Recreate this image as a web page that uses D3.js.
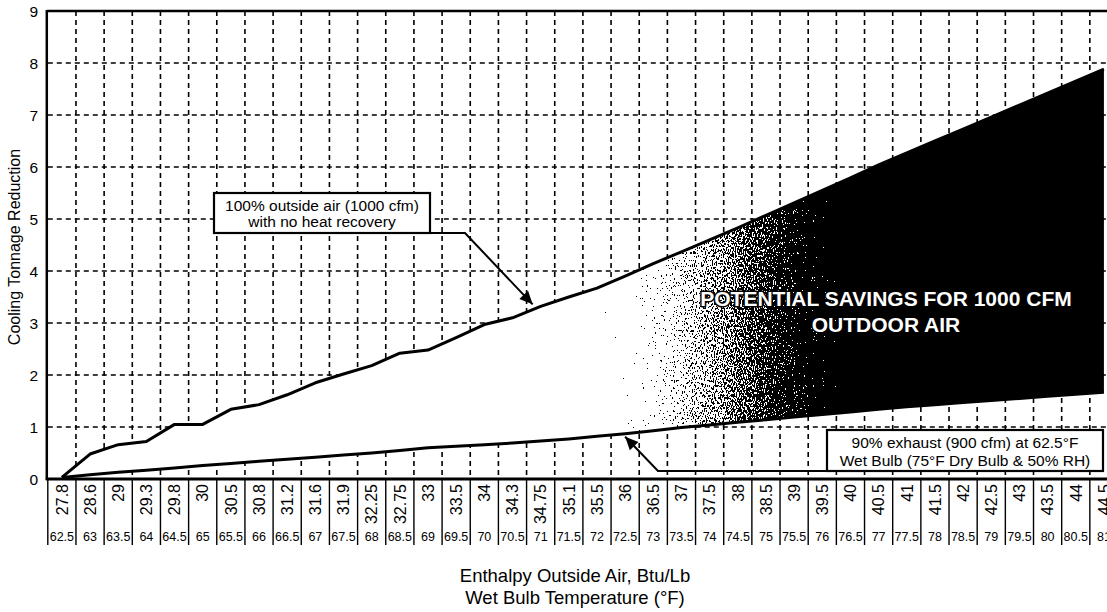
<!DOCTYPE html>
<html>
<head>
<meta charset="utf-8">
<script src="https://cdn.jsdelivr.net/npm/d3@7"></script>
<style>
  html, body { margin: 0; padding: 0; background: #fff; }
  svg { display: block; }
  text { font-family: "Liberation Sans", Arial, Helvetica, sans-serif; }
</style>
</head>
<body>
<svg id="chart" width="1107" height="612"></svg>
<script>
// ---- data ----
const enthalpy = ["27.8","28.6","29","29.3","29.8","30","30.5","30.8","31.2","31.6","31.9","32.25","32.75","33","33.5","34","34.3","34.75","35.1","35.5","36","36.5","37","37.5","38","38.5","39","39.5","40","40.5","41","41.5","42","42.5","43","43.5","44","44.5"];
const wetBulb = ["62.5","63","63.5","64","64.5","65","65.5","66","66.5","67","67.5","68","68.5","69","69.5","70","70.5","71","71.5","72","72.5","73","73.5","74","74.5","75","75.5","76","76.5","77","77.5","78","78.5","79","79.5","80","80.5","81"];
const noRecovery = [0.03,0.48,0.66,0.72,1.05,1.05,1.34,1.43,1.62,1.85,2.02,2.18,2.42,2.48,2.72,2.97,3.1,3.32,3.5,3.67,3.9,4.14,4.37,4.6,4.83,5.07,5.31,5.55,5.79,6.04,6.27,6.5,6.73,6.96,7.19,7.42,7.65,7.88];
const exhaust90 = [0.03,0.08,0.13,0.17,0.21,0.26,0.3,0.34,0.38,0.42,0.46,0.5,0.55,0.6,0.63,0.66,0.69,0.73,0.77,0.82,0.87,0.93,0.99,1.04,1.09,1.14,1.19,1.24,1.29,1.34,1.39,1.43,1.47,1.51,1.55,1.59,1.63,1.67];
const yTicks = [0,1,2,3,4,5,6,7,8,9];
const yTitle = "Cooling Tonnage Reduction";
const xTitle1 = "Enthalpy Outside Air, Btu/Lb";
const xTitle2 = "Wet Bulb Temperature (°F)";
const note1 = ["100% outside air (1000 cfm)", "with no heat recovery"];
const note2 = ["90% exhaust (900 cfm) at 62.5°F", "Wet Bulb (75°F Dry Bulb & 50% RH)"];
const savings = ["POTENTIAL SAVINGS FOR 1000 CFM", "OUTDOOR AIR"];

// ---- layout ----
const W = 1107, H = 612;
const pLeft = 47.8, pRightEdge = 1118, pTop = 11, pBottom = 479;
const svg = d3.select("#chart");

const x = d3.scaleBand().domain(enthalpy).range([pLeft, pRightEdge]).padding(0);
const y = d3.scaleLinear().domain([0, 9]).range([pBottom, pTop]);
const bw = x.bandwidth();
const cx = (i) => x(enthalpy[i]) + bw / 2;

const defs = svg.append("defs");
const grad = defs.append("linearGradient").attr("id", "savGrad")
  .attr("gradientUnits", "userSpaceOnUse")
  .attr("x1", 590).attr("y1", 0).attr("x2", 870).attr("y2", 0);
grad.append("stop").attr("offset", "0%").attr("stop-color", "#fff");
grad.append("stop").attr("offset", "100%").attr("stop-color", "#000");

const filt = defs.append("filter").attr("id", "dither")
  .attr("color-interpolation-filters", "sRGB")
  .attr("x", 0).attr("y", 0).attr("width", 1).attr("height", 1);
filt.append("feTurbulence").attr("type", "fractalNoise")
  .attr("baseFrequency", "0.9 0.4").attr("numOctaves", 2).attr("seed", 7).attr("result", "noise");
filt.append("feColorMatrix").attr("in", "noise").attr("type", "matrix")
  .attr("values", "1 0 0 0 0  1 0 0 0 0  1 0 0 0 0  0 0 0 0 1").attr("result", "n");
filt.append("feComposite").attr("in", "SourceGraphic").attr("in2", "n")
  .attr("operator", "arithmetic").attr("k1", 0).attr("k2", 1).attr("k3", 1.2).attr("k4", -0.6).attr("result", "sum");
const ct = filt.append("feComponentTransfer").attr("in", "sum").attr("result", "thr");
["feFuncR","feFuncG","feFuncB"].forEach(f => ct.append(f).attr("type", "discrete").attr("tableValues", "0 1"));
filt.append("feComposite").attr("in", "thr").attr("in2", "SourceGraphic").attr("operator", "in");

// ---- grid ----
const grid = svg.append("g").attr("stroke", "#000").attr("stroke-width", 1.6).attr("stroke-dasharray", "5,4");
yTicks.filter(t => t > 0 && t < 9).forEach(t => {
  grid.append("line").attr("x1", pLeft).attr("x2", W).attr("y1", y(t)).attr("y2", y(t));
});
enthalpy.forEach((e, i) => {
  if (i === 0) return;
  grid.append("line").attr("x1", x(e)).attr("x2", x(e)).attr("y1", pTop).attr("y2", pBottom);
});

// ---- savings area ----
const pts = enthalpy.map((e, i) => ({ x: cx(i), lo: exhaust90[i], hi: noRecovery[i] }));
const area = d3.area().x(d => d.x).y0(d => y(d.lo)).y1(d => y(d.hi));
svg.append("path").datum(pts).attr("d", area).attr("fill", "url(#savGrad)").attr("filter", "url(#dither)");

const lineHi = d3.line().x(d => d.x).y(d => y(d.hi));
const lineLo = d3.line().x(d => d.x).y(d => y(d.lo));
svg.append("path").datum(pts).attr("d", lineHi).attr("fill", "none").attr("stroke", "#000").attr("stroke-width", 3).attr("stroke-linejoin", "round");
svg.append("path").datum(pts).attr("d", lineLo).attr("fill", "none").attr("stroke", "#000").attr("stroke-width", 3).attr("stroke-linejoin", "round");

// ---- frame ----
svg.append("line").attr("x1", pLeft - 1).attr("x2", W).attr("y1", pTop).attr("y2", pTop).attr("stroke", "#000").attr("stroke-width", 2.5);
svg.append("line").attr("x1", pLeft - 1).attr("x2", pLeft - 1).attr("y1", pTop - 1).attr("y2", pBottom + 1).attr("stroke", "#000").attr("stroke-width", 2.5);
svg.append("line").attr("x1", pLeft - 2).attr("x2", W).attr("y1", pBottom).attr("y2", pBottom).attr("stroke", "#000").attr("stroke-width", 3);

// ---- y axis labels ----
svg.append("g").selectAll("text").data(yTicks).join("text")
  .attr("x", 38).attr("y", d => y(d)).attr("dy", "0.36em").style("fill", "#000")
  .attr("text-anchor", "end").attr("font-size", 15.5).text(d => d);
svg.append("text").attr("transform", `translate(14,${(pTop + pBottom) / 2 + 2}) rotate(-90)`).style("fill", "#000")
  .attr("text-anchor", "middle").attr("dy", "0.35em").attr("font-size", 16).text(yTitle);

// ---- table under axis ----
const tbl = svg.append("g");
for (let i = 0; i <= enthalpy.length; i++) {
  const xx = pLeft + i * bw;
  tbl.append("line").attr("x1", xx).attr("x2", xx).attr("y1", pBottom).attr("y2", 545)
    .attr("stroke", "#000").attr("stroke-width", 1.4);
}
tbl.selectAll("text.enth").data(enthalpy).join("text").attr("class", "enth").style("fill", "#000")
  .attr("transform", (d, i) => `translate(${cx(i)},484) rotate(-90)`)
  .attr("text-anchor", "end").attr("dy", "0.36em").attr("font-size", 16).text(d => d);
tbl.selectAll("text.wb").data(wetBulb).join("text").attr("class", "wb").style("fill", "#000")
  .attr("x", (d, i) => cx(i)).attr("y", 536).attr("dy", "0.36em")
  .attr("text-anchor", "middle").attr("font-size", 12.5).text(d => d);

svg.append("text").attr("x", 575).attr("y", 582).attr("text-anchor", "middle").attr("font-size", 18.5).style("fill", "#000").text(xTitle1);
svg.append("text").attr("x", 575).attr("y", 604).attr("text-anchor", "middle").attr("font-size", 18.5).style("fill", "#000").text(xTitle2);

// ---- savings label ----
savings.forEach((s, k) => {
  svg.append("text").attr("x", 886).attr("y", 298 + k * 26).attr("dy", "0.36em")
    .attr("text-anchor", "middle").attr("font-size", 21).attr("font-weight", "bold")
    .style("fill", "#fff").style("stroke", "#000").style("stroke-width", 3)
    .style("paint-order", "stroke").style("stroke-linejoin", "round").text(s);
});

// ---- annotations ----
function arrowHead(x0, y0, x1, y1) {
  const a = Math.atan2(y1 - y0, x1 - x0), L = 13, Wd = 6;
  const bx = x1 - L * Math.cos(a), by = y1 - L * Math.sin(a);
  const px = -Math.sin(a) * Wd, py = Math.cos(a) * Wd;
  svg.append("path").attr("d", `M${x1},${y1}L${bx + px},${by + py}L${bx - px},${by - py}Z`).attr("fill", "#000");
}
// note 1
const b1 = { x: 214, y: 193, w: 216, h: 40 };
const tip1 = { x: cx(17) - 8, y: y(noRecovery[17]) - 2 };
svg.append("path").attr("d", `M${b1.x + b1.w},${b1.y + b1.h}L465,${b1.y + b1.h}L${tip1.x},${tip1.y}`)
  .attr("fill", "none").attr("stroke", "#000").attr("stroke-width", 2);
arrowHead(465, b1.y + b1.h, tip1.x, tip1.y);
svg.append("rect").attr("x", b1.x).attr("y", b1.y).attr("width", b1.w).attr("height", b1.h)
  .attr("fill", "#fff").attr("stroke", "#000").attr("stroke-width", 2.2);
note1.forEach((t, k) => svg.append("text").attr("x", b1.x + b1.w / 2).attr("y", 205 + k * 16).attr("dy", "0.36em")
  .style("fill", "#000").attr("text-anchor", "middle").attr("font-size", 15.5).text(t));

// note 2
const b2 = { x: 827, y: 430, w: 276, h: 41 };
const tip2 = { x: cx(20), y: y(exhaust90[20]) + 3 };
svg.append("path").attr("d", `M${b2.x},${b2.y + b2.h}L658,${b2.y + b2.h}L${tip2.x},${tip2.y}`)
  .attr("fill", "none").attr("stroke", "#000").attr("stroke-width", 2);
arrowHead(658, b2.y + b2.h, tip2.x, tip2.y);
svg.append("rect").attr("x", b2.x).attr("y", b2.y).attr("width", b2.w).attr("height", b2.h)
  .attr("fill", "#fff").attr("stroke", "#000").attr("stroke-width", 2.2);
note2.forEach((t, k) => svg.append("text").attr("x", b2.x + b2.w / 2).attr("y", 442 + k * 18).attr("dy", "0.36em")
  .style("fill", "#000").attr("text-anchor", "middle").attr("font-size", 15.5).text(t));
</script>
</body>
</html>
